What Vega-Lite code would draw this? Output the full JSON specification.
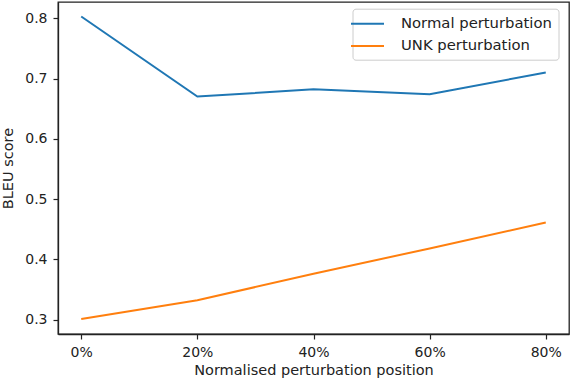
{
  "$schema": "https://vega.github.io/schema/vega-lite/v6.json",
  "autosize": "none",
  "width": 511,
  "height": 332,
  "padding": {"left": 58, "top": 2, "right": 3, "bottom": 48},
  "data": {"values": [
    {"pos": 0, "score": 0.803, "series": "Normal perturbation"},
    {"pos": 20, "score": 0.670, "series": "Normal perturbation"},
    {"pos": 40, "score": 0.682, "series": "Normal perturbation"},
    {"pos": 60, "score": 0.674, "series": "Normal perturbation"},
    {"pos": 80, "score": 0.710, "series": "Normal perturbation"},
    {"pos": 0, "score": 0.301, "series": "UNK perturbation"},
    {"pos": 20, "score": 0.332, "series": "UNK perturbation"},
    {"pos": 40, "score": 0.376, "series": "UNK perturbation"},
    {"pos": 60, "score": 0.418, "series": "UNK perturbation"},
    {"pos": 80, "score": 0.461, "series": "UNK perturbation"}
  ]},
  "mark": {"type": "line", "strokeWidth": 2, "clip": true},
  "encoding": {
    "x": {
      "field": "pos", "type": "quantitative",
      "scale": {"domain": [-4, 84], "nice": false, "zero": false},
      "axis": {
        "title": "Normalised perturbation position",
        "values": [0, 20, 40, 60, 80],
        "labelExpr": "datum.value + '%'",
        "grid": false,
        "tickSize": 5,
        "labelPadding": 6,
        "titlePadding": 4
      }
    },
    "y": {
      "field": "score", "type": "quantitative",
      "scale": {"domain": [0.276, 0.827], "nice": false, "zero": false},
      "axis": {
        "title": "BLEU score",
        "values": [0.3, 0.4, 0.5, 0.6, 0.7, 0.8],
        "format": ".1f",
        "grid": false,
        "tickSize": 5,
        "labelPadding": 6,
        "titlePadding": 9
      }
    },
    "color": {
      "field": "series", "type": "nominal",
      "scale": {"domain": ["Normal perturbation", "UNK perturbation"], "range": ["#1f77b4", "#ff7f0e"]},
      "legend": {
        "title": null,
        "orient": "none",
        "legendX": 294.5,
        "legendY": 6.7,
        "symbolType": "M-2.0625,0H2.0625",
        "symbolSize": 256,
        "symbolStrokeWidth": 2,
        "labelOffset": 24.5,
        "rowPadding": 6.3,
        "padding": 6,
        "strokeColor": "#cccccc",
        "fillColor": "rgba(255,255,255,0.8)",
        "cornerRadius": 3
      }
    }
  },
  "config": {
    "font": "DejaVu Sans",
    "view": {"stroke": "#222222", "strokeWidth": 1.3},
    "axis": {
      "domainColor": "#222222",
      "domainWidth": 1.3,
      "tickColor": "#222222",
      "tickWidth": 1.2,
      "labelFont": "DejaVu Sans",
      "labelFontSize": 14,
      "labelColor": "#222222",
      "titleFont": "DejaVu Sans",
      "titleFontSize": 14.5,
      "titleFontWeight": "normal",
      "titleColor": "#222222"
    },
    "legend": {
      "labelFont": "DejaVu Sans",
      "labelFontSize": 14.8,
      "labelColor": "#222222"
    }
  }
}
